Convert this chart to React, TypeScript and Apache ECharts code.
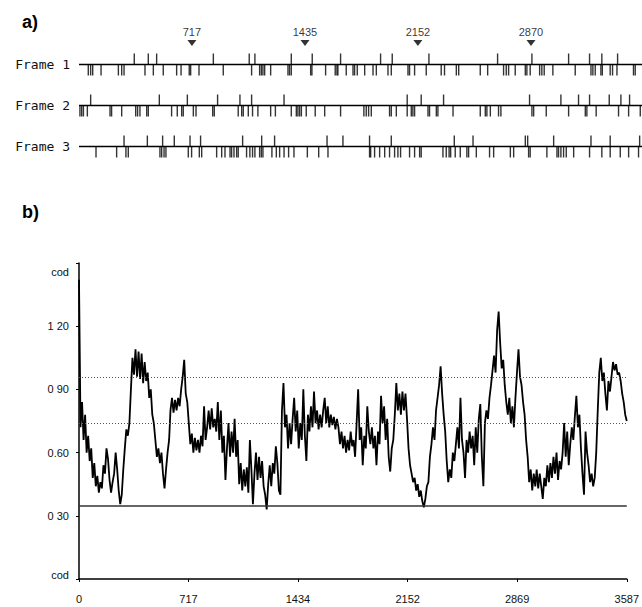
import React, { useEffect, useRef } from 'react';
import * as echarts from 'echarts';

const seqLength = 3587;
const frameNames = ['Frame 1', 'Frame 2', 'Frame 3'];

const frame1Starts = [351, 440, 493, 853, 1081, 1117, 1348, 1481, 1661, 1915, 1989, 2222, 2658, 2876, 3109, 3242, 3320, 3420];
const frame1Stops = [59, 74, 87, 140, 250, 271, 286, 419, 472, 535, 620, 648, 700, 709, 762, 916, 1096, 1147, 1158, 1168, 1179, 1217, 1327, 1337, 1348, 1471, 1479, 1566, 1627, 1638, 1644, 1697, 1740, 1750, 1767, 1814, 1867, 1888, 1962, 1983, 2089, 2099, 2131, 2205, 2300, 2321, 2396, 2411, 2548, 2595, 2696, 2713, 2728, 2770, 2834, 2844, 2865, 2925, 2939, 2954, 3009, 3151, 3251, 3263, 3278, 3314, 3323, 3373, 3388, 3416, 3521, 3532];

const frame2Starts = [74, 510, 688, 880, 1022, 1096, 1302, 2084, 2173, 2315, 2861, 3060, 3172, 3242, 3367, 3441, 3496];
const frame2Stops = [6, 17, 28, 53, 197, 207, 271, 360, 372, 387, 430, 440, 588, 624, 652, 662, 726, 743, 849, 859, 1011, 1033, 1043, 1075, 1102, 1136, 1217, 1247, 1348, 1380, 1390, 1401, 1412, 1443, 1500, 1560, 1661, 1809, 1824, 1839, 1856, 1972, 1983, 2015, 2084, 2110, 2120, 2131, 2216, 2226, 2269, 2279, 2375, 2548, 2580, 2590, 2612, 2664, 2679, 2876, 2887, 2967, 3109, 3215, 3225, 3284, 3426, 3490, 3564];

const frame3Starts = [286, 434, 531, 605, 705, 772, 1039, 1160, 1242, 1575, 1676, 1845, 1983, 2383, 2502, 2834, 2849, 3014, 3251, 3373, 3560];
const frame3Stops = [108, 239, 298, 313, 514, 525, 540, 552, 694, 715, 764, 779, 874, 906, 927, 959, 969, 984, 1001, 1011, 1064, 1085, 1102, 1117, 1147, 1158, 1168, 1225, 1253, 1274, 1302, 1331, 1365, 1450, 1522, 1581, 1845, 1852, 1877, 1909, 1941, 1972, 2004, 2025, 2042, 2099, 2131, 2163, 2173, 2311, 2332, 2350, 2360, 2389, 2421, 2463, 2474, 2523, 2607, 2633, 2739, 2760, 2855, 2865, 2971, 3035, 3045, 3060, 3077, 3094, 3141, 3242, 3320, 3373, 3437, 3490, 3553];

const markerPos = [717, 1435, 2152, 2870];

const xTicks = [0, 717, 1434, 2152, 2869, 3587];
const yTicks = [0, 0.3, 0.6, 0.9, 1.2, 1.5];
const yTickText = ['cod', '0 30', '0.60', '0 90', '1 20', 'cod'];

const refSolid = [0.352];
const refDotted = [0.957, 0.743];

const codValues = [
  1.42, 0.72, 0.84, 0.66, 0.78, 0.60, 0.68, 0.56, 0.62, 0.48,
  0.55, 0.44, 0.49, 0.41, 0.46, 0.43, 0.54, 0.50, 0.62, 0.57,
  0.47, 0.41, 0.46, 0.50, 0.60, 0.52, 0.42, 0.355, 0.40, 0.52,
  0.62, 0.71, 0.68, 0.74, 0.90, 1.05, 0.97, 1.09, 0.96, 1.08,
  0.95, 1.07, 0.93, 1.03, 0.94, 0.98, 0.86, 0.90, 0.78, 0.74,
  0.66, 0.58, 0.62, 0.55, 0.60, 0.50, 0.43, 0.52, 0.60, 0.66,
  0.80, 0.86, 0.79, 0.85, 0.80, 0.86, 0.82, 0.90, 0.96, 1.04,
  0.88, 0.84, 0.74, 0.64, 0.69, 0.60, 0.67, 0.61, 0.66, 0.60,
  0.68, 0.63, 0.82, 0.66, 0.72, 0.80, 0.71, 0.81, 0.72, 0.76,
  0.70, 0.84, 0.66, 0.80, 0.60, 0.68, 0.47, 0.62, 0.74, 0.58,
  0.70, 0.60, 0.76, 0.58, 0.66, 0.45, 0.55, 0.42, 0.52, 0.44,
  0.53, 0.41, 0.66, 0.52, 0.355, 0.50, 0.60, 0.47, 0.58, 0.48,
  0.56, 0.44, 0.40, 0.33, 0.45, 0.54, 0.44, 0.55, 0.50, 0.63,
  0.55, 0.42, 0.40, 0.80, 0.93, 0.72, 0.78, 0.62, 0.74, 0.64,
  0.76, 0.86, 0.70, 0.80, 0.62, 0.74, 0.66, 0.90, 0.68, 0.56,
  0.78, 0.70, 0.82, 0.72, 0.89, 0.74, 0.80, 0.71, 0.78, 0.72,
  0.80, 0.86, 0.74, 0.82, 0.72, 0.78, 0.73, 0.77, 0.71, 0.76,
  0.72, 0.64, 0.70, 0.62, 0.68, 0.60, 0.66, 0.61, 0.70, 0.63,
  0.66, 0.58, 0.74, 0.90, 0.66, 0.72, 0.54, 0.68, 0.62, 0.82,
  0.70, 0.64, 0.72, 0.62, 0.68, 0.54, 0.70, 0.64, 0.87, 0.74,
  0.82, 0.66, 0.76, 0.58, 0.51, 0.62, 0.66, 0.78, 0.93, 0.80,
  0.88, 0.78, 0.89, 0.80, 0.88, 0.76, 0.62, 0.54, 0.50, 0.46,
  0.48, 0.42, 0.45, 0.39, 0.42, 0.37, 0.34, 0.38, 0.44, 0.46,
  0.58, 0.64, 0.72, 0.66, 0.80, 0.86, 0.92, 1.01, 0.88, 0.78,
  0.70, 0.56, 0.46, 0.52, 0.48, 0.60, 0.56, 0.64, 0.72, 0.62,
  0.86, 0.66, 0.60, 0.48, 0.66, 0.60, 0.70, 0.62, 0.68, 0.54,
  0.72, 0.60, 0.76, 0.83, 0.58, 0.44, 0.74, 0.80, 0.76, 0.86,
  0.92, 0.99, 1.06, 0.98, 1.18, 1.27, 1.12, 1.00, 1.04, 0.92,
  0.84, 0.78, 0.86, 0.74, 0.82, 0.72, 0.86, 0.98, 1.09, 0.96,
  0.92, 0.84, 0.78, 0.66, 0.58, 0.46, 0.52, 0.42, 0.50, 0.44,
  0.52, 0.43, 0.50, 0.44, 0.38, 0.48, 0.44, 0.54, 0.46, 0.55,
  0.48, 0.58, 0.50, 0.60, 0.47, 0.56, 0.52, 0.60, 0.74, 0.58,
  0.70, 0.54, 0.64, 0.72, 0.66, 0.77, 0.87, 0.72, 0.78, 0.62,
  0.50, 0.40, 0.70, 0.60, 0.54, 0.46, 0.50, 0.44, 0.48, 0.60,
  0.80, 0.98, 1.05, 0.94, 0.98, 0.88, 0.80, 0.94, 0.89, 0.96,
  1.03, 0.99, 1.02, 0.97, 0.98, 0.94, 0.88, 0.84, 0.78, 0.75,
];

const FONT = 'Liberation Sans';

export default function App() {
  const ref = useRef<HTMLDivElement>(null);

  useEffect(() => {
    if (!ref.current) return;
    const chart = echarts.init(ref.current, null, { renderer: 'svg' });
    const step = seqLength / (codValues.length - 1);
    const codData = codValues.map((v, i) => [Math.round(i * step), v]);
    const frameMax = 3575;
    const starts = [frame1Starts, frame2Starts, frame3Starts];
    const stops = [frame1Stops, frame2Stops, frame3Stops];

    const frameSeries: any[] = [];
    frameNames.forEach((name, k) => {
      frameSeries.push({
        type: 'line',
        xAxisIndex: 1,
        yAxisIndex: 1,
        data: [[0, name], [frameMax, name]],
        showSymbol: false,
        silent: true,
        lineStyle: { color: '#000', width: 1.3 },
      });
      frameSeries.push({
        type: 'scatter',
        xAxisIndex: 1,
        yAxisIndex: 1,
        data: starts[k].map((u) => [u, name]),
        symbol: 'rect',
        symbolSize: [1.4, 11],
        symbolOffset: [0, -5.5],
        itemStyle: { color: '#000' },
        silent: true,
      });
      frameSeries.push({
        type: 'scatter',
        xAxisIndex: 1,
        yAxisIndex: 1,
        data: stops[k].map((u) => [u, name]),
        symbol: 'rect',
        symbolSize: [1.4, 11],
        symbolOffset: [0, 5.5],
        itemStyle: { color: '#000' },
        silent: true,
      });
    });

    const labelFor = (v: number) => {
      const idx = yTicks.findIndex((t) => Math.abs(t - v) < 1e-6);
      if (idx < 0) return '';
      if (idx === yTicks.length - 1) return '{top|' + yTickText[idx] + '}';
      if (idx === 0) return '{bot|' + yTickText[idx] + '}';
      return yTickText[idx];
    };

    chart.setOption({
      animation: false,
      backgroundColor: '#fff',
      grid: [
        { left: 79, right: 12, top: 263, height: 316 },
        { left: 79, right: 0, top: 44, height: 123 },
        { left: 79, right: 0, top: 13, height: 30 },
      ],
      xAxis: [
        {
          gridIndex: 0,
          type: 'value',
          min: 0,
          max: seqLength,
          axisLine: { show: true, lineStyle: { color: '#000', width: 1.5 } },
          axisTick: { show: true, length: 3, customValues: xTicks, lineStyle: { color: '#000' } },
          axisLabel: {
            customValues: xTicks,
            margin: 14,
            fontSize: 11,
            fontFamily: FONT,
            color: '#111',
            formatter: (v: number) => String(v),
          },
          splitLine: { show: false },
        },
        { gridIndex: 1, type: 'value', min: 0, max: frameMax, show: false },
        { gridIndex: 2, type: 'value', min: 0, max: frameMax, show: false },
      ],
      yAxis: [
        {
          gridIndex: 0,
          type: 'value',
          min: 0,
          max: 1.5,
          interval: 0.3,
          axisLine: { show: true, lineStyle: { color: '#000', width: 1.5 } },
          axisTick: { show: true, length: 3, lineStyle: { color: '#000' } },
          axisLabel: {
            margin: 10,
            fontSize: 11,
            fontFamily: FONT,
            color: '#111',
            formatter: labelFor,
            rich: {
              top: { fontSize: 11, fontFamily: FONT, color: '#111', padding: [18, 0, 0, 0] },
              bot: { fontSize: 11, fontFamily: FONT, color: '#111', padding: [0, 0, 8, 0] },
            },
          },
          splitLine: { show: false },
        },
        {
          gridIndex: 1,
          type: 'category',
          data: frameNames,
          inverse: true,
          axisLine: { show: false },
          axisTick: { show: false },
          axisLabel: { margin: 9, fontSize: 13, fontFamily: 'DejaVu Sans Mono', color: '#111', padding: [5, 0, 0, 0] },
          splitLine: { show: false },
        },
        { gridIndex: 2, type: 'value', min: 0, max: 1, show: false },
      ],
      graphic: [
        { type: 'text', left: 22, top: 13, style: { text: 'a)', font: 'bold 18px "Liberation Sans"', fill: '#000' } },
        { type: 'text', left: 22, top: 203, style: { text: 'b)', font: 'bold 18px "Liberation Sans"', fill: '#000' } },
      ],
      series: [
        {
          type: 'line',
          xAxisIndex: 0,
          yAxisIndex: 0,
          data: codData,
          showSymbol: false,
          silent: true,
          lineStyle: { color: '#000', width: 1.8 },
          markLine: {
            silent: true,
            symbol: ['none', 'none'],
            label: { show: false },
            data: [
              ...refSolid.map((v) => ({ yAxis: v, lineStyle: { type: 'solid', color: '#333', width: 1.5 } })),
              ...refDotted.map((v) => ({ yAxis: v, lineStyle: { type: [1, 2], color: '#555', width: 1 } })),
            ],
          },
        },
        ...frameSeries,
        {
          type: 'scatter',
          xAxisIndex: 2,
          yAxisIndex: 2,
          data: markerPos.map((u) => [u, 0]),
          symbol: 'path://M0 0L10 0L5 7Z',
          symbolSize: [9, 6],
          itemStyle: { color: '#000' },
          silent: true,
          clip: false,
          label: {
            show: true,
            position: 'top',
            distance: 3,
            fontSize: 11,
            fontFamily: FONT,
            color: '#000',
            formatter: (p: any) => String(p.value[0]),
          },
        },
      ],
    });
    return () => chart.dispose();
  }, []);

  return (
    <div
      ref={ref}
      style={{ position: 'fixed', left: 0, top: 0, width: 642, height: 607, background: '#fff' }}
    />
  );
}
